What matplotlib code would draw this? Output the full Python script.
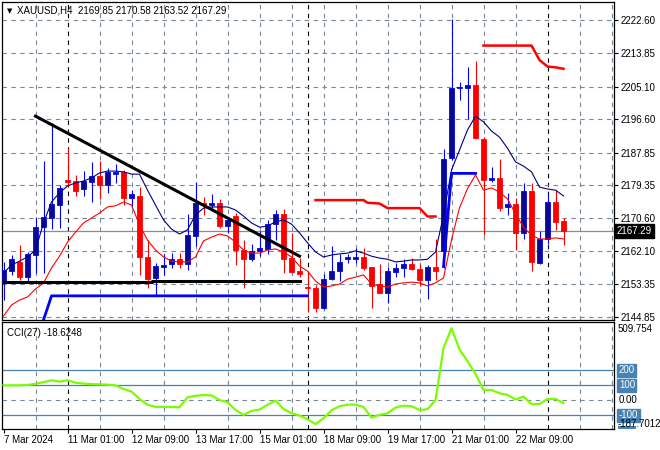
import matplotlib
matplotlib.use("Agg")
import matplotlib.pyplot as plt
import numpy as np

plt.rcParams['font.family'] = ['Liberation Sans', 'DejaVu Sans']

# XAUUSD H4 candles, 7 Mar 17:00 .. 25 Mar 09:00
opens = [2153.7, 2156.8, 2159.2, 2155.2, 2161.0, 2168.3, 2170.7, 2174.1, 2180.6, 2180.4,
         2178.3, 2180.1, 2181.7, 2179.4, 2182.3, 2182.8, 2175.9, 2176.5, 2160.5, 2155.0,
         2157.8, 2158.6, 2160.0, 2158.6, 2166.0, 2174.6, 2174.1, 2174.6, 2168.6, 2171.2,
         2162.3, 2160.0, 2162.1, 2162.6, 2169.1, 2171.8, 2160.2, 2156.8, 2152.6, 2152.4,
         2147.1, 2154.7, 2156.8, 2159.9, 2160.0, 2160.5, 2157.8, 2153.4, 2151.0, 2156.6,
         2157.6, 2158.6, 2157.3, 2154.5, 2157.9, 2162.1, 2186.4, 2204.8, 2204.8, 2205.6,
         2191.4, 2180.7, 2181.2, 2173.6, 2174.4, 2166.8, 2177.8, 2159.0, 2165.2, 2174.9,
         2169.85]
highs = [2159.2, 2161.0, 2163.6, 2161.8, 2171.0, 2185.6, 2195.6, 2179.4, 2189.1, 2182.0,
         2183.0, 2185.4, 2185.6, 2183.8, 2184.9, 2183.3, 2178.0, 2178.8, 2164.9, 2158.9,
         2161.3, 2161.5, 2161.5, 2171.8, 2180.1, 2176.2, 2177.0, 2175.7, 2171.0, 2172.0,
         2164.9, 2163.9, 2167.3, 2170.2, 2172.8, 2173.1, 2166.8, 2160.2, 2156.3, 2153.1,
         2156.0, 2163.4, 2161.3, 2161.3, 2162.8, 2162.8, 2157.9, 2158.6, 2157.9, 2158.9,
         2160.0, 2160.2, 2158.6, 2158.4, 2165.2, 2188.8, 2222.9, 2206.4, 2210.3, 2211.9,
         2191.9, 2184.1, 2186.2, 2177.3, 2175.9, 2179.9, 2179.9, 2167.3, 2177.3, 2178.0,
         2170.58]
lows = [2149.2, 2155.8, 2154.5, 2153.9, 2156.3, 2156.3, 2167.8, 2168.1, 2178.8, 2176.5,
        2176.5, 2174.9, 2175.7, 2177.3, 2180.0, 2174.1, 2173.3, 2155.8, 2152.4, 2150.5,
        2155.8, 2157.6, 2157.6, 2157.1, 2163.4, 2171.5, 2172.8, 2168.1, 2166.8, 2158.4,
        2152.4, 2159.5, 2160.8, 2161.3, 2164.9, 2156.3, 2156.3, 2155.2, 2146.1, 2146.1,
        2146.9, 2154.5, 2154.2, 2158.9, 2158.9, 2157.1, 2147.1, 2151.0, 2148.4, 2155.2,
        2155.2, 2157.1, 2152.9, 2149.5, 2154.5, 2157.6, 2185.9, 2201.6, 2196.6, 2191.4,
        2166.2, 2180.1, 2172.5, 2171.5, 2162.3, 2165.2, 2156.8, 2158.6, 2163.9, 2167.6,
        2163.52]
closes = [2157.1, 2160.0, 2155.2, 2161.3, 2168.3, 2171.0, 2174.4, 2178.6, 2180.3, 2177.8,
          2180.4, 2181.7, 2179.4, 2182.8, 2182.8, 2175.9, 2177.0, 2160.5, 2154.7, 2158.1,
          2158.4, 2160.0, 2158.6, 2166.2, 2174.6, 2174.1, 2174.6, 2168.6, 2170.2, 2162.3,
          2160.0, 2162.1, 2162.9, 2169.1, 2171.8, 2160.0, 2156.6, 2156.0, 2152.3, 2147.1,
          2154.7, 2156.8, 2159.2, 2160.4, 2160.4, 2157.6, 2152.9, 2151.0, 2156.8, 2157.6,
          2158.6, 2157.3, 2154.5, 2157.9, 2156.8, 2186.2, 2204.8, 2205.1, 2205.6, 2191.7,
          2180.7, 2181.2, 2173.3, 2174.4, 2166.8, 2177.8, 2159.2, 2165.2, 2174.9, 2169.7,
          2167.29]

# the two moving averages as drawn
ma_fast = [2156.3, 2158.4, 2159.4, 2160.5, 2162.3, 2169.4, 2174.9, 2177.3, 2179.1, 2179.9,
           2180.4, 2181.2, 2182.5, 2183.0, 2183.0, 2182.8, 2182.2, 2182.2, 2178.0, 2174.1,
           2170.2, 2167.8, 2166.5, 2167.6, 2171.5, 2173.3, 2173.6, 2173.6, 2173.6, 2172.8,
           2171.2, 2169.4, 2168.3, 2168.6, 2169.7, 2170.2, 2169.1, 2166.8, 2164.2, 2161.8,
           2160.5, 2161.0, 2161.3, 2161.5, 2162.1, 2161.5, 2160.7, 2160.2, 2159.9, 2159.2,
           2159.4, 2159.7, 2159.7, 2159.9, 2161.8, 2171.5, 2183.3, 2188.5, 2193.8, 2197.4,
           2195.9, 2193.5, 2191.9, 2189.0, 2185.4, 2184.3, 2182.8, 2178.8, 2178.3, 2178.0,
           2176.5]
ma_slow = [2145.0, 2147.9, 2149.2, 2150.0, 2152.1, 2153.7, 2157.6, 2160.7, 2164.4, 2167.0,
           2169.4, 2170.7, 2172.0, 2173.6, 2173.9, 2174.9, 2174.1, 2168.9, 2164.9, 2162.3,
           2160.5, 2159.4, 2159.2, 2159.2, 2160.5, 2164.7, 2165.7, 2166.5, 2166.0, 2164.4,
           2162.3, 2161.5, 2161.5, 2162.3, 2162.6, 2161.8, 2160.5, 2158.1, 2156.8, 2154.2,
           2152.6, 2152.9, 2153.4, 2154.7, 2155.2, 2155.8, 2153.4, 2152.9, 2152.6, 2153.4,
           2153.7, 2153.9, 2153.7, 2152.9, 2153.7, 2155.0, 2165.0, 2173.4, 2178.4, 2182.0,
           2178.0, 2178.6, 2177.5, 2175.7, 2171.8, 2168.3, 2166.2, 2165.2, 2165.2, 2165.5,
           2165.2]

cci = [100, 100, 100, 103, 110, 122, 134, 125, 134, 118,
       112, 108, 107, 105, 100, 76, 58, 9, -30, -44,
       -44, -45, -47, 20, 30, 35, 33, 2, -13, -64,
       -98, -71, -62, -30, -2, -58, -87, -102, -127, -159,
       -121, -67, -40, -29, -29, -45, -116, -98, -87, -49,
       -36, -40, -65, -60, 2, 350, 483, 340, 262, 176,
       70, 69, 47, 36, 5, 25, -25, -25, 9, 9,
       -18.6248]

# hand drawn lines / levels: (candle index, price)
trend_idx = [4, 37]
trend_val = [2197.4, 2160.7]
support_idx = [0, 18.5, 18.5, 37]
support_val = [2153.9, 2153.9, 2154.3, 2154.3]
blue_lo_idx = [5, 6, 38]
blue_lo_val = [2144.0, 2150.3, 2150.3]
blue_hi_idx = [55, 56, 59]
blue_hi_val = [2158.0, 2182.4, 2182.4]
red_mid_idx = [39, 45, 45.5, 47, 48, 52, 53, 54]
red_mid_val = [2175.4, 2175.4, 2174.7, 2174.5, 2173.3, 2173.3, 2171.1, 2171.1]
red_hi_idx = [60, 66, 67, 68, 69, 70]
red_hi_val = [2215.9, 2215.9, 2212.1, 2210.4, 2210.2, 2209.8]

price_ticks = [2222.60, 2213.85, 2205.10, 2196.60, 2187.85, 2179.35, 2170.60, 2162.10, 2153.35, 2144.85]
time_pos = [0, 8, 16, 24, 32, 40, 48, 56, 64]
time_labels = ['7 Mar 2024', '11 Mar 01:00', '12 Mar 09:00', '13 Mar 17:00', '15 Mar 01:00',
               '18 Mar 09:00', '19 Mar 17:00', '21 Mar 01:00', '22 Mar 09:00']
separators = [8, 38, 68]
grid_x = [i for i in range(4, 77, 4) if i not in (8, 68)]
last_price = 2167.29
cci_levels = [200, 100, -100]

GRID = '#778899'
W, H = 660, 450
fig = plt.figure(figsize=(6.6, 4.5), dpi=100)
ax = fig.add_axes([2 / W, 1 - 320 / H, 612 / W, 318 / H])
ac = fig.add_axes([2 / W, 1 - 428.5 / H, 612 / W, 106.5 / H])

idx = np.arange(len(opens))
o = np.array(opens); c = np.array(closes)
bull = c >= o
col_wick = np.where(bull, '#0000ff', '#ff0000')
ax.vlines(idx, lows, highs, colors=col_wick, lw=0.8, zorder=4)
body = np.where(np.abs(c - o) < 0.35, np.where(bull, 0.35, -0.35), c - o)
ax.bar(idx[bull], body[bull], bottom=o[bull], width=0.62, color='#0a0a8c',
       edgecolor='#0000ff', lw=0.6, zorder=5)
ax.bar(idx[~bull], body[~bull], bottom=o[~bull], width=0.62, color='#ff0000',
       edgecolor='#ff0000', lw=0.6, zorder=5)

ax.plot(idx, ma_fast, color='#000080', lw=0.8, zorder=6)
ax.plot(idx, ma_slow, color='#ff0000', lw=0.8, zorder=6)
ax.plot(trend_idx, trend_val, color='black', lw=2.2, zorder=7)
ax.plot(support_idx, support_val, color='black', lw=2.2, zorder=7)
ax.plot(blue_lo_idx, blue_lo_val, color='#0000ff', lw=2.0, zorder=7)
ax.plot(blue_hi_idx, blue_hi_val, color='#0000ff', lw=2.0, zorder=7)
ax.plot(red_mid_idx, red_mid_val, color='#ff0000', lw=1.8, zorder=7)
ax.plot(red_hi_idx, red_hi_val, color='#ff0000', lw=1.8, zorder=7)

ax.axhline(last_price, color='#8c8c8c', lw=0.9, zorder=2)
for s in separators:
    ax.axvline(s, color='black', lw=0.8, ls=(0, (4, 4)), zorder=1)
    ac.axvline(s, color='black', lw=0.8, ls=(0, (4, 4)), zorder=1)

ax.set_xlim(-0.19, 76.31)
ax.set_ylim(2143.97, 2227.32)
ax.set_xticks(grid_x)
ax.set_yticks(price_ticks)
ax.set_yticklabels(['%.2f' % p for p in price_ticks])
ax.yaxis.tick_right()
ax.tick_params(axis='y', length=3, width=0.8, pad=2, labelsize=7)
ax.tick_params(axis='x', length=0, labelbottom=False)
ax.grid(True, color=GRID, lw=0.8, ls=(0, (4, 4)), zorder=0)

ax.text(1.004, last_price, '%.2f' % last_price, transform=ax.get_yaxis_transform(),
        color='white', fontsize=7, va='center', ha='left',
        bbox=dict(boxstyle='square,pad=0.2', fc='black', ec='black'))
ax.text(0.008, 0.972, '\u25bc', transform=ax.transAxes, fontsize=5, va='center',
        family=['DejaVu Sans'])
ax.text(0.024, 0.972, 'XAUUSD,H4  2169.85 2170.58 2163.52 2167.29', transform=ax.transAxes,
        fontsize=7, va='center')

# CCI panel
ac.plot(idx, cci, color='#7cfc00', lw=1.6, zorder=5)
for lv in cci_levels:
    ac.axhline(lv, color='#4682b4', lw=0.9, zorder=2)
ac.axhline(0, color=GRID, lw=0.8, ls=(0, (4, 4)), zorder=1)
ac.set_xlim(-0.19, 76.31)
ac.set_ylim(-189, 524.6)
ac.set_yticks([])
ac.set_xticks(time_pos)
ac.set_xticklabels(time_labels, ha='left', fontsize=7)
ac.tick_params(axis='x', length=3, width=0.8, pad=2)
ac.set_xticks(grid_x, minor=True)
ac.tick_params(axis='x', which='minor', length=0)
ac.grid(True, which='minor', axis='x', color=GRID, lw=0.8, ls=(0, (4, 4)), zorder=0)

ac.text(0.008, 0.9, 'CCI(27) -18.6248', transform=ac.transAxes, fontsize=7, va='center')
ty = ac.get_yaxis_transform()
ac.text(1.006, 480, '509.754', transform=ty, fontsize=7, va='center')
ac.text(1.008, 0, '0.00', transform=ty, fontsize=7, va='center')
for lv in cci_levels:
    ac.text(1.008, lv, str(lv), transform=ty, fontsize=7, va='center', color='white',
            bbox=dict(boxstyle='square,pad=0.15', fc='#4682b4', ec='#4682b4'))
ac.add_patch(plt.Rectangle((1.006, -189), 0.03, 16, transform=ty, fc='#4682b4',
                           ec='none', clip_on=False))
ac.text(1.006, -158, '-187.7012', transform=ty, fontsize=7, va='center')

for a in (ax, ac):
    for sp in a.spines.values():
        sp.set_linewidth(0.9)
        sp.set_color('black')

fig.savefig('out.png', dpi=100)
